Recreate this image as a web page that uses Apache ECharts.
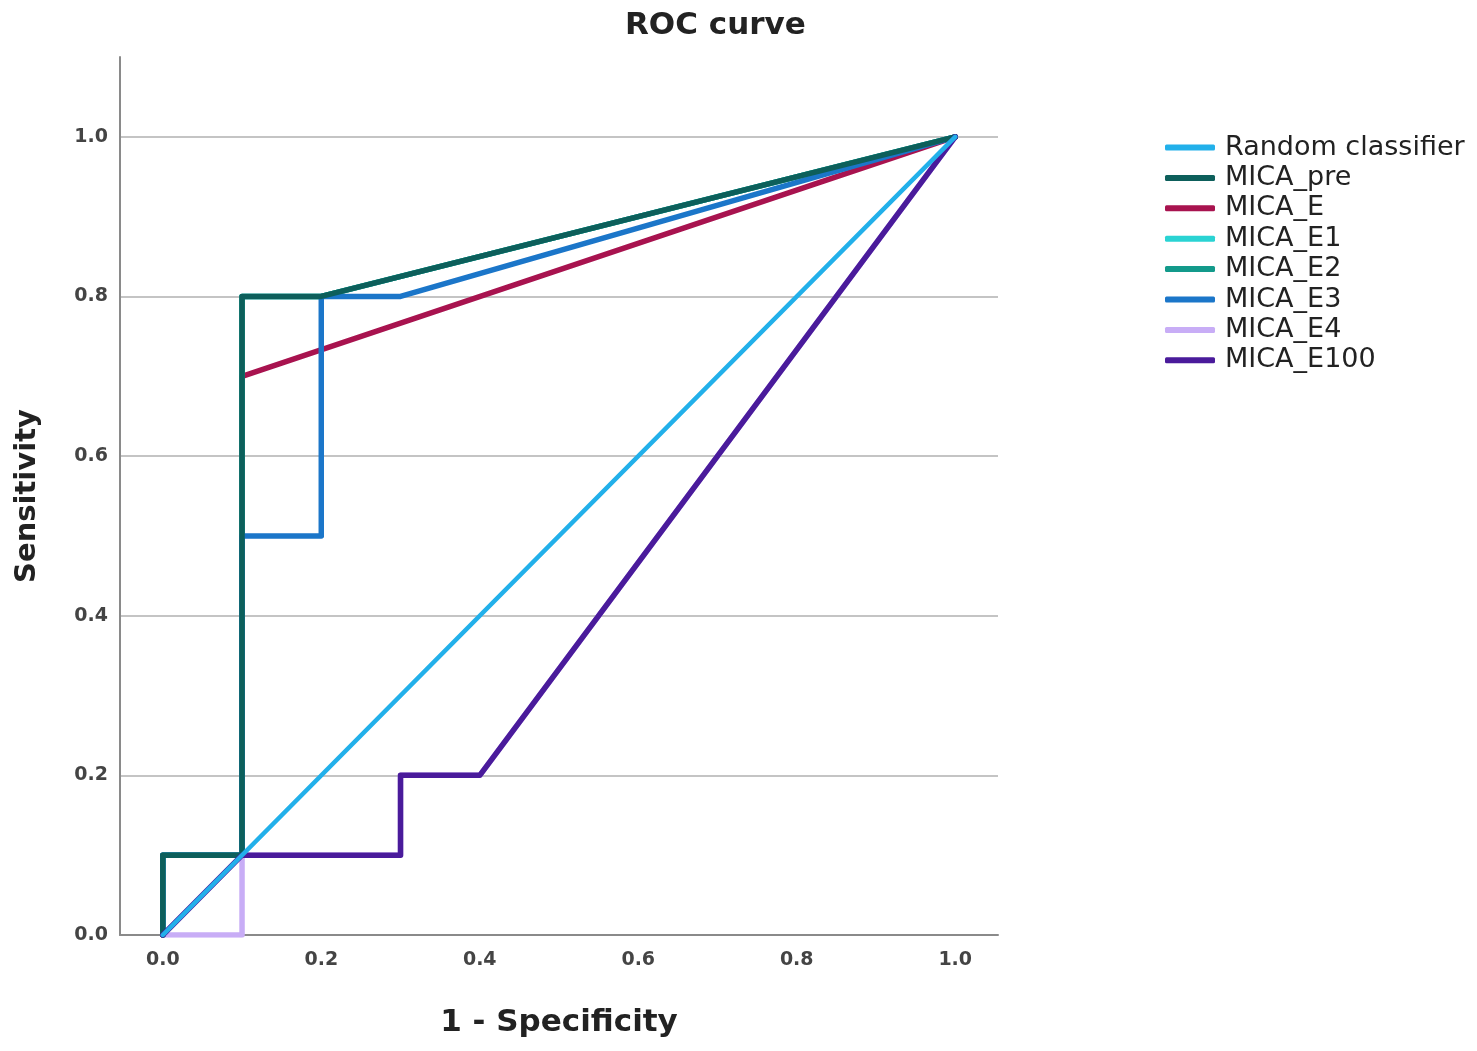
<!DOCTYPE html>
<html>
<head>
<meta charset="utf-8">
<script src="https://cdn.jsdelivr.net/npm/echarts@6/dist/echarts.min.js"></script>
<style>
  html, body { margin: 0; padding: 0; background: #fff; }
  #chart { width: 1477px; height: 1051px; }
</style>
</head>
<body>
<div id="chart"></div>
<script>
// 图例名称
const seriesNames = ["Random classifier", "MICA_pre", "MICA_E", "MICA_E1", "MICA_E2", "MICA_E3", "MICA_E4", "MICA_E100"]
const seriesColors = ["#22b0ea", "#0d5f5b", "#a8134f", "#2ad3d3", "#139a8b", "#1b76c9", "#c8adf6", "#4a1b9b"]

// ROC 曲线点 [1 - specificity, sensitivity]
const randomPts = [[0, 0], [1, 1]]
const prePts = [[0, 0], [0, 0.1], [0.1, 0.1], [0.1, 0.8], [0.2, 0.8], [1, 1]]
const ePts = [[0, 0], [0, 0.1], [0.1, 0.1], [0.1, 0.7], [1, 1]]
const e1Pts = [[0, 0], [0, 0.1], [0.1, 0.1], [0.1, 0.8], [0.2, 0.8], [1, 1]]
const e2Pts = [[0, 0], [0, 0.1], [0.1, 0.1], [0.1, 0.8], [0.2, 0.8], [1, 1]]
const e3Pts = [[0, 0], [0, 0.1], [0.1, 0.1], [0.1, 0.5], [0.2, 0.5], [0.2, 0.8], [0.3, 0.8], [1, 1]]
const e4Pts = [[0, 0], [0.1, 0], [0.1, 0.1], [0.3, 0.1], [0.3, 0.2], [0.4, 0.2], [1, 1]]
const e100Pts = [[0, 0], [0.1, 0.1], [0.3, 0.1], [0.3, 0.2], [0.4, 0.2], [1, 1]]

// 刻度
const tickValues = [0, 0.2, 0.4, 0.6, 0.8, 1.0]

const seriesData = [randomPts, prePts, ePts, e1Pts, e2Pts, e3Pts, e4Pts, e100Pts]
// 叠放顺序（数值越大越靠上）
const seriesZ = [9, 7, 3, 4, 5, 6, 2, 8]

const chart = echarts.init(document.getElementById("chart"))
const font = "DejaVu Sans"

const option = {
  backgroundColor: "#ffffff",
  animation: false,
  title: {
    text: "ROC curve",
    left: 625,
    top: 10,
    padding: 0,
    textStyle: { fontFamily: font, fontSize: 31, fontWeight: "bold", color: "#222" }
  },
  legend: {
    orient: "vertical",
    left: 1160,
    top: 129,
    icon: "roundRect",
    itemWidth: 50,
    itemHeight: 6,
    itemGap: 3.4,
    data: seriesNames,
    textStyle: { fontFamily: font, fontSize: 27, color: "#222", lineHeight: 26, padding: [0, 0, 0, 5] }
  },
  grid: { left: 120, right: 479, top: 57, bottom: 116, containLabel: false, outerBoundsMode: "none" },
  xAxis: {
    type: "value",
    min: -0.054,
    max: 1.054,
    name: "1 - Specificity",
    nameLocation: "middle",
    nameGap: 72,
    nameTextStyle: { fontFamily: font, fontSize: 31, fontWeight: "bold", color: "#222" },
    axisLine: { show: true, lineStyle: { color: "#8a8a8a", width: 2 } },
    axisTick: { show: false },
    splitLine: { show: false },
    axisLabel: {
      customValues: tickValues,
      margin: 16,
      fontFamily: font,
      fontSize: 19,
      fontWeight: "bold",
      color: "#444",
      formatter: (v) => v.toFixed(1)
    }
  },
  yAxis: {
    type: "value",
    min: 0,
    max: 1.1,
    interval: 0.2,
    name: "Sensitivity",
    nameLocation: "middle",
    nameGap: 78,
    nameTextStyle: { fontFamily: font, fontSize: 29, fontWeight: "bold", color: "#222" },
    axisLine: { show: true, onZero: false, lineStyle: { color: "#8a8a8a", width: 2 } },
    axisTick: { show: false },
    splitLine: { show: true, showMinLine: false, showMaxLine: false, lineStyle: { color: "#c4c4c4", width: 2 } },
    axisLabel: {
      margin: 12,
      fontFamily: font,
      fontSize: 19,
      fontWeight: "bold",
      color: "#444",
      formatter: (v) => (v > 1.05 ? "" : v.toFixed(1))
    }
  },
  series: seriesNames.map((name, i) => ({
    name: name,
    type: "line",
    data: seriesData[i],
    symbol: "none",
    z: seriesZ[i],
    color: seriesColors[i],
    lineStyle: { color: seriesColors[i], width: i === 0 ? 4.5 : 5.5, cap: "round", join: "round" }
  }))
}

chart.setOption(option)
</script>
</body>
</html>
